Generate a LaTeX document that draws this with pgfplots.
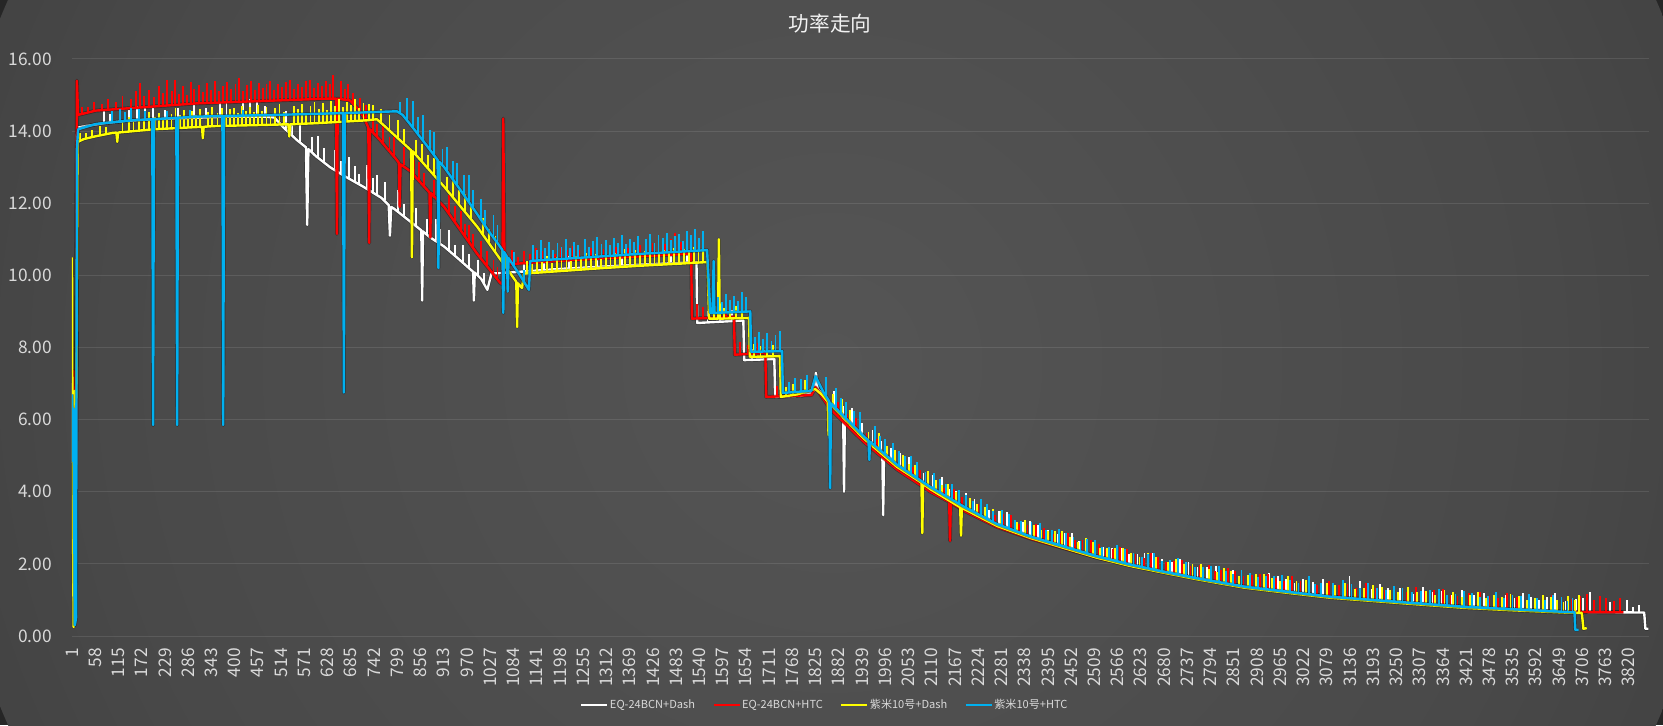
\documentclass[border=0pt]{standalone}
\usepackage{fontspec}
\setmainfont{Noto Sans CJK SC}
\usepackage{pgfplots}
\pgfplotsset{compat=1.18}
\usepackage{pgfplotstable}
\definecolor{serwhite}{HTML}{FFFFFF}
\definecolor{serred}{HTML}{FF0000}
\definecolor{seryellow}{HTML}{FFFF00}
\definecolor{serblue}{HTML}{00B0F0}
\definecolor{ticktext}{HTML}{D9D9D9}
\definecolor{titletext}{HTML}{F2F2F2}
\definecolor{bgA}{HTML}{555555}
\definecolor{bgB}{HTML}{494949}
\definecolor{bgC}{HTML}{3E3E3E}
\definecolor{bgD}{HTML}{323232}
\definecolor{bgE}{HTML}{2A2A2A}
\definecolor{bgF}{HTML}{262626}
\pgfdeclareradialshading{bgrad}{\pgfpointorigin}{color(0bp)=(bgA); color(20bp)=(bgB); color(30bp)=(bgC); color(40bp)=(bgD); color(46bp)=(bgE); color(50bp)=(bgF)}

% ---------- EQ-24BCN+Dash (white) ----------
\pgfplotstableread{
x y
1 4.8
3 7.0
6 0.5
10 0.6
13 13.9
16 14.1
40 14.15
80 14.22
130 14.28
200 14.33
280 14.36
380 14.4
470 14.4
497 14.38
520 14.1
553 13.75
575 13.55
578 11.4
581 13.5
600 13.3
634 13.0
670 12.75
717 12.45
760 12.15
778 11.95
781 11.1
784 11.9
791 11.85
830 11.5
858 11.25
860 9.3
862 11.22
880 11.05
914 10.8
950 10.45
985 10.1
987 9.3
989 10.08
1005 9.9
1020 9.6
1030 10.05
1100 10.1
1200 10.18
1300 10.24
1400 10.3
1500 10.35
1533 10.37
1535 8.68
1600 8.72
1648 8.75
1650 7.65
1700 7.67
1724 7.68
1726 6.63
1790 6.66
1815 6.75
1822 6.8
1826 7.3
1830 6.85
1840 6.73
1861 6.43
1893 6.07
1895 4.0
1897 6.03
1944 5.5
1989 5.08
1991 3.35
1993 5.05
2025 4.72
2107 4.1
2190 3.55
2271 3.08
2352 2.75
2435 2.47
2516 2.2
2598 1.97
2681 1.78
2762 1.6
2877 1.37
2980 1.23
3088 1.09
3250 0.95
3417 0.81
3540 0.74
3662 0.67
3760 0.66
3858 0.65
3861 0.2
3868 0.2
}\wline
\pgfplotstableread{
x y e
80 14.22 0.35
95 14.23 0.25
140 14.28 0.3
160 14.3 0.4
180 14.31 0.35
200 14.33 0.3
230 14.34 0.25
262 14.35 0.3
300 14.37 0.35
330 14.38 0.25
365 14.39 0.4
380 14.4 0.65
420 14.4 0.45
438 14.4 0.5
455 14.4 0.45
475 14.4 0.3
510 14.2 0.4
525 14.05 0.5
540 13.88 0.35
560 13.68 0.55
590 13.4 0.45
605 13.26 0.6
620 13.12 0.4
645 12.92 0.55
660 12.82 0.35
680 12.68 0.6
695 12.58 0.45
705 12.52 0.3
725 12.4 0.65
740 12.3 0.4
750 12.22 0.55
768 12.08 0.5
800 11.77 0.6
815 11.63 0.35
845 11.37 0.5
872 11.12 0.45
895 10.97 0.6
905 10.88 0.4
925 10.7 0.55
940 10.55 0.3
960 10.35 0.5
975 10.2 0.4
998 9.97 0.45
1012 9.76 0.3
1060 10.07 0.3
1110 10.11 0.25
1160 10.15 0.3
1220 10.2 0.35
1290 10.24 0.3
1350 10.27 0.25
1420 10.31 0.3
1470 10.34 0.35
1510 10.36 0.3
1560 8.7 0.3
1590 8.71 0.45
1620 8.73 0.3
1670 7.66 0.3
1700 7.67 0.25
1760 6.64 0.3
1800 6.67 0.25
1870 6.33 0.45
1892 6.08 0.3
1915 5.82 0.5
1940 5.55 0.35
1965 5.3 0.4
1985 5.1 0.3
2010 4.86 0.35
2032 4.68 0.4
2055 4.5 0.45
2075 4.33 0.35
2090 4.22 0.3
2112 4.06 0.4
2135 3.91 0.5
2152 3.78 0.3
2170 3.68 0.35
2195 3.52 0.45
2215 3.41 0.4
2232 3.31 0.3
2250 3.2 0.3
2275 3.06 0.4
2295 2.98 0.45
2315 2.9 0.3
2335 2.82 0.35
2352 2.75 0.45
2370 2.69 0.4
2395 2.6 0.35
2420 2.52 0.3
2438 2.46 0.4
2455 2.4 0.45
2472 2.34 0.3
2490 2.28 0.35
2510 2.22 0.45
2530 2.16 0.3
2552 2.09 0.35
2575 2.03 0.4
2595 1.98 0.3
2615 1.93 0.35
2632 1.89 0.4
2650 1.85 0.45
2675 1.79 0.35
2700 1.74 0.3
2720 1.69 0.45
2740 1.65 0.4
2762 1.6 0.3
2785 1.55 0.35
2808 1.5 0.45
2830 1.46 0.3
2850 1.42 0.4
2870 1.38 0.45
2893 1.35 0.35
2915 1.32 0.3
2938 1.29 0.45
2960 1.26 0.4
2980 1.23 0.35
3000 1.21 0.25
3022 1.18 0.4
3045 1.15 0.35
3070 1.12 0.45
3100 1.08 0.3
3120 1.06 0.4
3135 1.05 0.6
3160 1.03 0.5
3190 1.0 0.3
3210 0.98 0.45
3230 0.97 0.35
3260 0.94 0.4
3290 0.92 0.25
3315 0.9 0.45
3340 0.88 0.35
3362 0.86 0.4
3385 0.84 0.3
3410 0.82 0.45
3440 0.8 0.35
3465 0.78 0.4
3490 0.76 0.3
3520 0.75 0.4
3540 0.74 0.3
3560 0.73 0.45
3580 0.72 0.35
3600 0.7 0.3
3620 0.69 0.4
3640 0.68 0.5
3665 0.67 0.3
3690 0.67 0.35
3708 0.66 0.4
3725 0.66 0.55
3750 0.66 0.4
3775 0.65 0.3
3800 0.65 0.2
3815 0.65 0.35
3830 0.65 0.15
3845 0.65 0.2
}\wspk

% ---------- EQ-24BCN+HTC (red) ----------
\pgfplotstableread{
x y
1 7.3
4 7.35
7 0.6
10 1.5
13 15.4
16 14.45
60 14.57
185 14.67
308 14.77
430 14.82
553 14.87
626 14.9
649 14.9
651 11.15
653 14.9
683 14.85
700 14.65
716 14.4
728 14.1
730 10.9
732 14.05
757 13.75
798 13.2
803 13.12
805 11.9
807 13.08
830 12.9
878 12.3
880 11.05
882 12.28
914 11.9
995 10.6
1051 9.8
1057 9.75
1059 14.35
1062 10.3
1150 10.37
1250 10.44
1350 10.5
1450 10.56
1520 10.6
1522 8.8
1625 8.85
1627 7.8
1702 7.85
1704 6.63
1815 6.68
1825 6.9
1861 6.3
1944 5.38
2025 4.62
2107 4.0
2153 3.72
2155 2.64
2157 3.7
2190 3.47
2271 3.02
2352 2.7
2435 2.43
2516 2.17
2598 1.95
2681 1.76
2762 1.59
2877 1.36
2980 1.22
3088 1.08
3250 0.94
3417 0.8
3540 0.73
3662 0.67
3760 0.66
3807 0.66
}\rline
\pgfplotstableread{
x y e
25 14.47 0.2
40 14.52 0.15
55 14.56 0.25
75 14.59 0.15
90 14.6 0.3
110 14.62 0.2
125 14.63 0.35
145 14.65 0.25
158 14.66 0.45
168 14.66 0.67
178 14.67 0.3
190 14.68 0.45
202 14.69 0.25
214 14.7 0.55
224 14.7 0.35
234 14.71 0.71
246 14.72 0.4
254 14.72 0.7
264 14.73 0.3
274 14.74 0.5
284 14.75 0.25
292 14.75 0.6
300 14.76 0.4
312 14.77 0.5
322 14.78 0.3
332 14.78 0.55
342 14.79 0.35
352 14.79 0.61
362 14.8 0.3
372 14.8 0.45
382 14.8 0.55
392 14.81 0.35
402 14.81 0.5
411 14.82 0.65
420 14.82 0.3
430 14.82 0.45
440 14.83 0.55
450 14.83 0.3
460 14.84 0.5
470 14.84 0.35
478 14.85 0.45
487 14.85 0.55
496 14.85 0.3
506 14.86 0.45
516 14.86 0.35
526 14.86 0.5
536 14.87 0.55
546 14.87 0.3
556 14.87 0.45
566 14.88 0.35
576 14.88 0.5
585 14.88 0.54
595 14.89 0.3
605 14.89 0.45
615 14.9 0.35
625 14.9 0.5
633 14.9 0.4
641 14.9 0.65
660 14.89 0.5
670 14.88 0.3
678 14.86 0.45
690 14.75 0.3
708 14.52 0.4
722 14.22 0.5
740 13.95 0.45
750 13.84 0.35
765 13.65 0.5
780 13.45 0.4
790 13.3 0.55
815 13.05 0.5
840 12.75 0.45
852 12.6 0.55
865 12.45 0.4
890 12.15 0.5
900 12.0 0.35
925 11.72 0.5
940 11.48 0.45
955 11.24 0.55
965 11.08 0.35
975 10.9 0.5
985 10.75 0.4
1005 10.46 0.5
1020 10.23 0.45
1035 10.03 0.4
1045 9.88 0.35
1068 10.3 0.3
1080 10.31 0.4
1095 10.32 0.2
1110 10.33 0.35
1125 10.35 0.25
1140 10.36 0.4
1155 10.37 0.3
1170 10.38 0.45
1185 10.39 0.2
1200 10.4 0.35
1215 10.41 0.3
1230 10.42 0.4
1245 10.44 0.25
1260 10.45 0.35
1275 10.46 0.3
1290 10.46 0.4
1305 10.47 0.25
1320 10.48 0.35
1335 10.49 0.3
1350 10.5 0.45
1365 10.51 0.25
1380 10.52 0.35
1395 10.53 0.3
1410 10.53 0.4
1425 10.54 0.35
1440 10.55 0.45
1455 10.56 0.3
1470 10.57 0.45
1480 10.57 0.6
1495 10.58 0.35
1510 10.59 0.3
1535 8.8 0.4
1550 8.81 0.3
1565 8.82 0.45
1585 8.83 0.35
1605 8.84 0.3
1640 7.81 0.35
1660 7.82 0.25
1685 7.83 0.3
1730 6.64 0.3
1760 6.65 0.25
1790 6.67 0.3
1880 6.1 0.4
1903 5.85 0.3
1925 5.6 0.45
1950 5.33 0.3
1975 5.1 0.35
1998 4.88 0.4
2020 4.66 0.4
2042 4.53 0.3
2065 4.33 0.35
2082 4.19 0.4
2100 4.05 0.45
2122 3.92 0.35
2140 3.8 0.3
2165 3.64 0.45
2185 3.5 0.35
2205 3.39 0.3
2225 3.27 0.4
2245 3.16 0.35
2265 3.05 0.3
2285 2.98 0.4
2305 2.9 0.45
2325 2.81 0.3
2345 2.72 0.35
2365 2.66 0.45
2385 2.6 0.4
2410 2.52 0.3
2428 2.45 0.4
2445 2.41 0.45
2462 2.36 0.3
2480 2.3 0.35
2500 2.22 0.45
2520 2.16 0.4
2538 2.11 0.3
2555 2.06 0.35
2572 2.02 0.45
2590 1.97 0.45
2610 1.91 0.35
2630 1.87 0.3
2648 1.84 0.45
2665 1.8 0.4
2685 1.76 0.3
2705 1.72 0.35
2725 1.67 0.45
2745 1.63 0.3
2768 1.58 0.4
2790 1.53 0.45
2805 1.5 0.3
2820 1.47 0.35
2838 1.43 0.45
2855 1.4 0.4
2875 1.36 0.3
2895 1.34 0.35
2915 1.31 0.4
2935 1.28 0.45
2955 1.25 0.35
2975 1.23 0.3
2995 1.2 0.45
3015 1.17 0.35
3035 1.15 0.4
3055 1.12 0.3
3085 1.08 0.45
3110 1.06 0.35
3130 1.04 0.4
3150 1.03 0.3
3175 1.01 0.45
3200 0.99 0.35
3222 0.97 0.3
3245 0.95 0.4
3275 0.93 0.3
3298 0.91 0.45
3320 0.89 0.35
3342 0.87 0.4
3365 0.85 0.45
3383 0.83 0.3
3400 0.82 0.3
3428 0.8 0.4
3455 0.78 0.45
3478 0.77 0.35
3500 0.76 0.3
3522 0.75 0.45
3545 0.73 0.35
3575 0.72 0.45
3592 0.71 0.35
3610 0.7 0.3
3632 0.68 0.45
3655 0.67 0.4
3680 0.67 0.35
3700 0.66 0.45
3718 0.66 0.5
3735 0.66 0.35
3750 0.66 0.45
3765 0.66 0.4
3785 0.66 0.3
3798 0.66 0.4
}\rspk

% ---------- 紫米10号+Dash (yellow) ----------
\pgfplotstableread{
x y
1 10.5
2 6.0
5 0.25
8 6.8
12 6.6
15 13.7
30 13.78
60 13.86
100 13.95
110 13.96
112 13.7
114 13.96
200 14.05
320 14.12
322 13.8
324 14.12
350 14.14
500 14.18
532 14.19
534 13.85
536 14.19
600 14.22
725 14.3
749 14.33
770 14.12
791 13.9
830 13.5
833 13.47
835 10.5
837 13.44
914 12.46
995 11.35
1076 10.06
1091 9.82
1093 8.57
1095 9.78
1105 9.65
1110 10.05
1200 10.12
1300 10.2
1400 10.27
1500 10.33
1560 10.37
1564 8.8
1586 8.8
1588 11.0
1590 8.8
1662 8.82
1664 7.74
1738 7.76
1740 6.63
1780 6.7
1824 6.85
1840 6.7
1855 6.5
1857 5.57
1859 6.46
1944 5.47
2025 4.69
2085 4.25
2087 2.85
2089 4.22
2107 4.07
2180 3.57
2182 2.78
2184 3.55
2190 3.52
2271 3.05
2352 2.72
2435 2.44
2516 2.17
2598 1.94
2681 1.75
2762 1.57
2877 1.34
2980 1.2
3088 1.06
3250 0.92
3417 0.78
3540 0.71
3662 0.65
3705 0.64
3709 0.2
3717 0.22
}\yline
\pgfplotstableread{
x y e
20 13.74 0.2
35 13.8 0.15
50 13.84 0.2
70 13.88 0.25
85 13.92 0.2
125 13.98 0.3
140 13.99 0.4
152 14.0 0.25
165 14.01 0.45
178 14.03 0.3
190 14.04 0.5
205 14.05 0.35
215 14.06 0.45
225 14.07 0.3
235 14.07 0.5
245 14.08 0.4
255 14.08 0.55
265 14.09 0.35
275 14.09 0.5
285 14.1 0.3
295 14.1 0.45
305 14.11 0.35
315 14.11 0.5
335 14.13 0.4
345 14.13 0.55
358 14.14 0.35
368 14.14 0.5
378 14.15 0.3
388 14.15 0.45
398 14.15 0.5
408 14.16 0.35
418 14.16 0.55
428 14.16 0.4
438 14.16 0.5
448 14.17 0.35
458 14.17 0.55
468 14.17 0.4
478 14.18 0.5
488 14.18 0.3
498 14.18 0.45
510 14.19 0.55
522 14.19 0.35
545 14.19 0.5
556 14.2 0.4
566 14.2 0.55
576 14.21 0.3
586 14.21 0.5
596 14.22 0.6
606 14.22 0.4
616 14.23 0.55
626 14.23 0.35
636 14.24 0.6
646 14.25 0.45
656 14.25 0.65
666 14.26 0.4
676 14.27 0.55
686 14.27 0.45
696 14.28 0.6
706 14.29 0.35
716 14.29 0.5
730 14.31 0.45
740 14.32 0.4
760 14.22 0.4
780 14.0 0.45
800 13.8 0.5
815 13.66 0.4
845 13.31 0.45
860 13.13 0.5
875 12.95 0.4
890 12.76 0.5
905 12.57 0.45
920 12.38 0.35
935 12.17 0.45
950 11.98 0.4
965 11.77 0.5
980 11.56 0.35
1010 11.13 0.45
1025 10.88 0.4
1040 10.64 0.45
1055 10.4 0.35
1065 10.24 0.3
1118 10.06 0.35
1130 10.06 0.25
1142 10.07 0.4
1154 10.08 0.3
1166 10.09 0.45
1178 10.1 0.25
1190 10.11 0.4
1202 10.12 0.3
1214 10.13 0.5
1226 10.14 0.25
1238 10.15 0.4
1250 10.16 0.3
1262 10.17 0.45
1274 10.18 0.3
1286 10.19 0.4
1298 10.2 0.25
1310 10.21 0.45
1322 10.22 0.3
1334 10.22 0.4
1346 10.23 0.3
1358 10.24 0.5
1370 10.25 0.3
1382 10.26 0.45
1394 10.27 0.3
1406 10.27 0.4
1418 10.28 0.3
1430 10.29 0.45
1442 10.3 0.35
1454 10.3 0.4
1466 10.31 0.3
1478 10.32 0.45
1490 10.32 0.35
1502 10.33 0.4
1514 10.34 0.3
1526 10.35 0.45
1538 10.35 0.35
1550 10.36 0.4
1575 8.8 0.35
1600 8.8 0.3
1615 8.81 0.45
1630 8.81 0.35
1645 8.82 0.4
1675 7.74 0.35
1690 7.75 0.3
1705 7.75 0.4
1720 7.76 0.3
1752 6.65 0.25
1770 6.68 0.3
1800 6.76 0.35
1868 6.35 0.35
1890 6.08 0.5
1910 5.86 0.4
1935 5.57 0.45
1955 5.37 0.3
1980 5.12 0.5
2000 4.93 0.35
2020 4.76 0.4
2040 4.58 0.45
2055 4.48 0.3
2070 4.35 0.4
2100 4.13 0.45
2120 3.98 0.35
2135 3.89 0.3
2150 3.76 0.45
2170 3.64 0.35
2205 3.44 0.4
2222 3.35 0.3
2240 3.23 0.35
2260 3.12 0.4
2280 3.01 0.45
2300 2.94 0.35
2320 2.85 0.3
2340 2.78 0.45
2360 2.69 0.4
2378 2.63 0.3
2395 2.57 0.35
2412 2.51 0.4
2430 2.46 0.45
2450 2.39 0.35
2470 2.32 0.3
2488 2.26 0.45
2505 2.2 0.4
2522 2.15 0.3
2540 2.1 0.35
2560 2.05 0.4
2580 1.99 0.45
2600 1.94 0.35
2620 1.89 0.3
2640 1.85 0.45
2660 1.8 0.4
2690 1.74 0.3
2710 1.69 0.45
2730 1.65 0.35
2750 1.6 0.4
2770 1.56 0.45
2790 1.52 0.35
2810 1.48 0.3
2828 1.44 0.45
2845 1.41 0.4
2865 1.37 0.3
2885 1.35 0.35
2905 1.32 0.4
2925 1.28 0.45
2945 1.26 0.35
2965 1.23 0.3
2985 1.2 0.45
3005 1.18 0.35
3028 1.15 0.4
3050 1.12 0.3
3080 1.08 0.4
3100 1.06 0.35
3125 1.03 0.45
3148 1.01 0.3
3170 0.99 0.35
3192 0.97 0.45
3215 0.95 0.4
3235 0.93 0.35
3255 0.92 0.3
3278 0.9 0.45
3300 0.88 0.35
3322 0.86 0.4
3345 0.85 0.3
3368 0.83 0.45
3390 0.81 0.4
3410 0.79 0.3
3430 0.78 0.35
3450 0.77 0.45
3470 0.76 0.3
3490 0.75 0.4
3510 0.74 0.35
3530 0.72 0.45
3550 0.71 0.4
3570 0.7 0.3
3590 0.69 0.35
3610 0.68 0.45
3630 0.67 0.4
3645 0.66 0.35
3660 0.65 0.3
3672 0.65 0.45
3688 0.65 0.35
3698 0.64 0.5
}\yspk

% ---------- 紫米10号+HTC (blue) ----------
\pgfplotstableread{
x y
1 6.7
3 4.85
5 6.3
8 0.3
11 0.5
13 13.5
16 14.05
60 14.2
150 14.3
198 14.33
200 5.85
202 14.33
257 14.37
259 5.85
261 14.37
300 14.4
370 14.42
372 5.85
374 14.42
500 14.45
666 14.5
668 6.75
670 14.5
798 14.55
812 14.45
830 14.2
870 13.62
898 13.2
900 10.2
902 13.15
914 13.0
955 12.35
995 11.7
1025 11.2
1051 10.8
1057 10.7
1059 8.96
1061 10.65
1068 10.52
1070 9.55
1072 10.48
1100 10.0
1122 9.6
1125 10.4
1250 10.49
1400 10.6
1559 10.7
1567 8.96
1573 8.96
1575 10.4
1577 8.96
1665 9.0
1667 7.88
1743 7.9
1745 6.74
1815 6.8
1825 7.2
1845 6.75
1859 6.5
1861 4.1
1863 6.45
1944 5.53
1955 5.42
1957 4.88
1959 5.39
2025 4.75
2107 4.13
2190 3.58
2271 3.1
2352 2.76
2435 2.48
2516 2.21
2598 1.98
2681 1.78
2762 1.6
2877 1.37
2980 1.23
3088 1.09
3250 0.95
3417 0.81
3540 0.74
3662 0.67
3687 0.66
3689 0.17
3697 0.17
}\bline
\pgfplotstableread{
x y e
100 14.25 0.3
118 14.27 0.35
130 14.28 0.25
145 14.3 0.35
165 14.31 0.3
180 14.32 0.25
235 14.35 0.2
290 14.39 0.2
420 14.43 0.15
805 14.5 0.3
822 14.32 0.6
838 14.08 0.75
850 13.9 0.5
862 13.74 0.7
880 13.47 0.55
890 13.33 0.65
910 13.05 0.45
922 12.87 0.7
935 12.67 0.5
945 12.51 0.6
962 12.24 0.55
975 12.02 0.75
985 11.86 0.5
1005 11.53 0.6
1015 11.37 0.45
1035 11.03 0.65
1045 10.89 0.5
1085 10.25 0.4
1110 9.8 0.35
1132 10.4 0.45
1142 10.41 0.3
1152 10.42 0.55
1162 10.42 0.35
1172 10.43 0.5
1182 10.44 0.25
1192 10.44 0.45
1202 10.45 0.35
1212 10.46 0.55
1222 10.47 0.3
1232 10.48 0.45
1242 10.48 0.35
1260 10.5 0.5
1270 10.5 0.3
1280 10.51 0.45
1290 10.52 0.55
1300 10.52 0.35
1310 10.53 0.45
1320 10.54 0.3
1330 10.54 0.5
1340 10.55 0.35
1350 10.56 0.55
1360 10.56 0.3
1370 10.57 0.45
1380 10.58 0.35
1390 10.58 0.5
1410 10.6 0.4
1420 10.61 0.55
1430 10.61 0.3
1440 10.62 0.5
1450 10.63 0.4
1460 10.63 0.55
1470 10.64 0.35
1480 10.65 0.45
1490 10.65 0.5
1500 10.66 0.3
1510 10.67 0.55
1520 10.67 0.45
1530 10.68 0.6
1540 10.69 0.35
1548 10.69 0.55
1585 8.96 0.45
1595 8.97 0.3
1605 8.97 0.5
1615 8.98 0.35
1625 8.98 0.45
1635 8.99 0.3
1645 8.99 0.55
1655 9.0 0.4
1677 7.88 0.4
1687 7.88 0.55
1697 7.89 0.35
1707 7.89 0.5
1717 7.89 0.3
1727 7.9 0.45
1737 7.9 0.55
1760 6.75 0.3
1775 6.76 0.4
1790 6.77 0.35
1805 6.79 0.45
1850 6.62 0.55
1875 6.28 0.6
1888 6.14 0.45
1900 6.0 0.5
1920 5.78 0.45
1935 5.62 0.6
1970 5.27 0.55
1983 5.14 0.4
1995 5.02 0.45
2015 4.84 0.5
2030 4.72 0.4
2045 4.6 0.4
2060 4.49 0.5
2075 4.37 0.45
2095 4.2 0.35
2115 4.07 0.45
2130 3.95 0.4
2145 3.86 0.35
2160 3.77 0.45
2178 3.66 0.4
2195 3.55 0.35
2212 3.45 0.3
2230 3.34 0.45
2245 3.25 0.4
2260 3.16 0.3
2282 3.04 0.45
2300 2.97 0.4
2315 2.91 0.3
2330 2.85 0.35
2355 2.75 0.4
2375 2.68 0.45
2390 2.63 0.3
2405 2.58 0.35
2422 2.52 0.45
2440 2.46 0.4
2458 2.4 0.35
2475 2.34 0.3
2492 2.28 0.4
2510 2.22 0.45
2528 2.16 0.3
2545 2.12 0.35
2565 2.06 0.45
2585 2.0 0.4
2605 1.95 0.35
2625 1.9 0.3
2640 1.87 0.4
2655 1.84 0.45
2675 1.79 0.3
2695 1.75 0.35
2715 1.7 0.45
2735 1.66 0.4
2755 1.62 0.3
2775 1.57 0.35
2795 1.53 0.4
2815 1.49 0.45
2832 1.45 0.35
2850 1.42 0.3
2870 1.38 0.45
2890 1.36 0.4
2910 1.33 0.3
2930 1.3 0.35
2950 1.27 0.4
2970 1.24 0.45
2990 1.21 0.35
3010 1.18 0.3
3035 1.16 0.5
3050 1.14 0.3
3065 1.12 0.35
3095 1.08 0.4
3120 1.06 0.5
3140 1.04 0.4
3160 1.03 0.3
3180 1.01 0.45
3202 0.99 0.35
3225 0.97 0.3
3245 0.95 0.45
3265 0.94 0.4
3288 0.92 0.3
3310 0.9 0.35
3332 0.88 0.4
3355 0.86 0.45
3375 0.84 0.3
3395 0.82 0.35
3415 0.81 0.45
3435 0.79 0.4
3455 0.78 0.3
3475 0.77 0.35
3495 0.76 0.45
3515 0.75 0.3
3535 0.74 0.4
3555 0.72 0.4
3575 0.71 0.45
3595 0.7 0.35
3615 0.69 0.3
3635 0.68 0.45
3655 0.67 0.4
3670 0.67 0.3
3682 0.66 0.4
}\bspk

\pgfplotsset{
  spikes/.style={forget plot, draw=none, mark=none,
    error bars/.cd, y dir=plus, y explicit, error mark=none,
    error bar style={draw=#1, line width=1.4pt}},
  serline/.style={mark=none, line width=1.8pt, line join=round},
  shadowline/.style={forget plot, mark=none, draw=black, draw opacity=0.35, line width=2.8pt, line join=round},
}

\begin{document}
\begin{tikzpicture}
\useasboundingbox (0pt,0pt) rectangle (1247.25pt,543.75pt);
\fill[bgF] (0pt,0pt) rectangle (1247.25pt,543.75pt);
\begin{scope}
\clip (0pt,0pt) rectangle (1247.25pt,543.75pt);
\shade[shading=bgrad] (624pt,271.9pt) ellipse [x radius=675pt, y radius=675pt];
\end{scope}
\node[text=titletext, font=\fontsize{15.5}{18}\selectfont] at (622.5pt,525.75pt) {功率走向};
\begin{axis}[
  at={(54pt,66.75pt)}, anchor=south west,
  scale only axis, width=1182.75pt, height=432.75pt,
  xmin=1, xmax=3870, ymin=0, ymax=16,
  axis line style={draw=none},
  major tick length=0pt,
  ymajorgrids, xmajorgrids=false,
  major grid style={white, opacity=0.1, line width=0.75pt},
  ytick={0,2,...,16},
  xtick={1,58,...,3820},
  /pgf/number format/assume math mode=true,
  yticklabel style={/pgf/number format/.cd, fixed, fixed zerofill, precision=2, /tikz/.cd,
    text=ticktext, font=\fontsize{13}{15}\selectfont, anchor=east, inner sep=0pt},
  yticklabel shift=15pt,
  xticklabel style={/pgf/number format/.cd, fixed, precision=0, 1000 sep={}, /tikz/.cd,
    text=ticktext, font=\fontsize{13}{15}\selectfont, rotate=90, anchor=east, inner sep=0pt},
  xticklabel shift=9pt,
  scaled x ticks=false,
  legend columns=4,
  legend style={draw=none, fill=none, text=ticktext, font=\fontsize{8.3}{10}\selectfont,
    at={(0.477,-0.1196)}, anchor=center, inner sep=0pt,
    /tikz/every even column/.append style={column sep=12pt},
    nodes={inner sep=0.8pt}},
  legend image code/.code={\draw[#1, line width=2.2pt] (0pt,0pt) -- (19.5pt,0pt);},
]
\addplot[shadowline] table[x=x,y=y] {\wline};
\addplot[serwhite, serline] table[x=x,y=y] {\wline};
\addlegendentry{EQ-24BCN+Dash}
\addplot[spikes=serwhite] table[x=x,y=y,y error=e] {\wspk};
\addplot[shadowline] table[x=x,y=y] {\rline};
\addplot[serred, serline] table[x=x,y=y] {\rline};
\addlegendentry{EQ-24BCN+HTC}
\addplot[spikes=serred] table[x=x,y=y,y error=e] {\rspk};
\addplot[shadowline] table[x=x,y=y] {\yline};
\addplot[seryellow, serline] table[x=x,y=y] {\yline};
\addlegendentry{紫米10号+Dash}
\addplot[spikes=seryellow] table[x=x,y=y,y error=e] {\yspk};
\addplot[shadowline] table[x=x,y=y] {\bline};
\addplot[serblue, serline] table[x=x,y=y] {\bline};
\addlegendentry{紫米10号+HTC}
\addplot[spikes=serblue] table[x=x,y=y,y error=e] {\bspk};
\end{axis}
\end{tikzpicture}
\end{document}
